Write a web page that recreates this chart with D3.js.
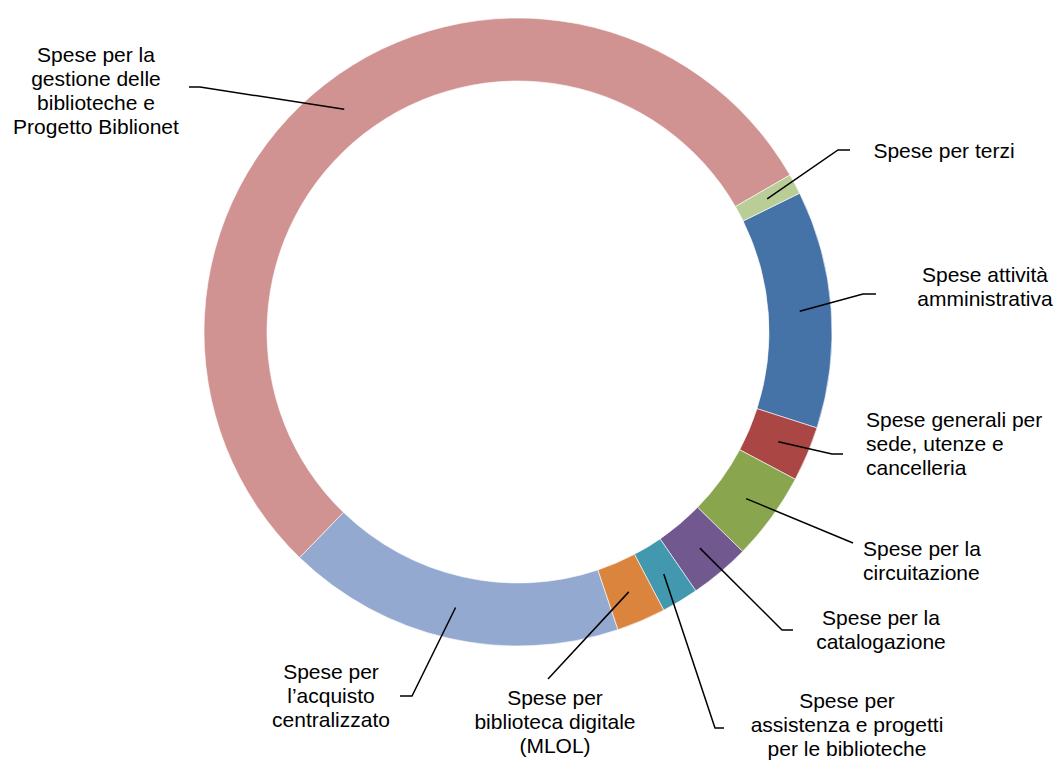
<!DOCTYPE html>
<html>
<head>
<meta charset="utf-8">
<script src="https://cdn.jsdelivr.net/npm/d3@7"></script>
<style>
  body { margin: 0; background: #fff; }
  text { font-family: "Liberation Sans", Arial, sans-serif; font-size: 21px; fill: #000; }
</style>
</head>
<body>
<div id="chart"></div>
<script>
// chart dimensions
const width = 1057;
const height = 760;

// slice data, in drawing order (clockwise)
const categories = [
  "Spese attività amministrativa",
  "Spese generali per sede, utenze e cancelleria",
  "Spese per la circuitazione",
  "Spese per la catalogazione",
  "Spese per assistenza e progetti per le biblioteche",
  "Spese per biblioteca digitale (MLOL)",
  "Spese per l’acquisto centralizzato",
  "Spese per la gestione delle biblioteche e Progetto Biblionet",
  "Spese per terzi"
];
const values = [12.23, 2.83, 4.54, 3.11, 1.9, 2.53, 17.39, 54.43, 1.04];
const colors = ["#4572A7", "#AA4643", "#89A54E", "#71588F", "#4198AF", "#DB843D", "#93A9CF", "#D19392", "#B9CD96"];

// label text, one entry per line
const labelLines = [
  ["Spese attività", "amministrativa"],
  ["Spese generali per", "sede, utenze e", "cancelleria"],
  ["Spese per la", "circuitazione"],
  ["Spese per la", "catalogazione"],
  ["Spese per", "assistenza e progetti", "per le biblioteche"],
  ["Spese per", "biblioteca digitale", "(MLOL)"],
  ["Spese per", "l’acquisto", "centralizzato"],
  ["Spese per la", "gestione delle", "biblioteche e", "Progetto Biblionet"],
  ["Spese per terzi"]
];

// label placement: text anchor point, alignment, leader elbow and end
const labelLayout = [
  { x: 985, y: 282, anchor: "middle", leader: [[863, 294], [876, 294]] },
  { x: 866, y: 427, anchor: "start", leader: [[832, 454], [843, 454]] },
  { x: 863, y: 556, anchor: "start", leader: [[853, 543]] },
  { x: 881, y: 625, anchor: "middle", leader: [[782, 630], [793, 630]] },
  { x: 847, y: 708, anchor: "middle", leader: [[715, 728], [724, 728]] },
  { x: 555, y: 705, anchor: "middle", leader: [[548, 679]] },
  { x: 331, y: 679, anchor: "middle", leader: [[412, 696], [400, 696]] },
  { x: 96, y: 62, anchor: "middle", leader: [[200, 87], [189, 87]] },
  { x: 944, y: 158, anchor: "middle", leader: [[838, 150], [850, 150]] }
];
const lineHeight = 23.9;

const cx = 518;
const cy = 332;
const outerR = 314;
const innerR = 251;
const startAngle = 63.76 * Math.PI / 180;

const svg = d3.select("#chart")
  .append("svg")
  .attr("width", width)
  .attr("height", height);

const pie = d3.pie()
  .sort(null)
  .value((d) => d.value)
  .startAngle(startAngle)
  .endAngle(startAngle + 2 * Math.PI);

const arc = d3.arc().innerRadius(innerR).outerRadius(outerR);

const data = categories.map((c, i) => ({ name: c, value: values[i], i: i }));
const arcs = pie(data);

const g = svg.append("g").attr("transform", `translate(${cx},${cy})`);

g.selectAll("path.slice")
  .data(arcs)
  .enter()
  .append("path")
  .attr("class", "slice")
  .attr("d", arc)
  .attr("fill", (d) => colors[d.data.i])
  .attr("stroke", "#fff")
  .attr("stroke-width", 0.6);

// leader lines from the middle of each slice
const line = d3.line();
svg.selectAll("path.leader")
  .data(arcs)
  .enter()
  .append("path")
  .attr("class", "leader")
  .attr("d", (d) => {
    const c = arc.centroid(d);
    const pts = [[c[0] + cx, c[1] + cy]].concat(labelLayout[d.data.i].leader);
    return line(pts);
  })
  .attr("fill", "none")
  .attr("stroke", "#000")
  .attr("stroke-width", 1.5);

// labels
const labels = svg.selectAll("text.label")
  .data(arcs)
  .enter()
  .append("text")
  .attr("class", "label")
  .attr("text-anchor", (d) => labelLayout[d.data.i].anchor);

labels.each(function (d) {
  const lay = labelLayout[d.data.i];
  d3.select(this)
    .selectAll("tspan")
    .data(labelLines[d.data.i])
    .enter()
    .append("tspan")
    .attr("x", lay.x)
    .attr("y", (t, k) => lay.y + k * lineHeight)
    .text((t) => t);
});
</script>
</body>
</html>
